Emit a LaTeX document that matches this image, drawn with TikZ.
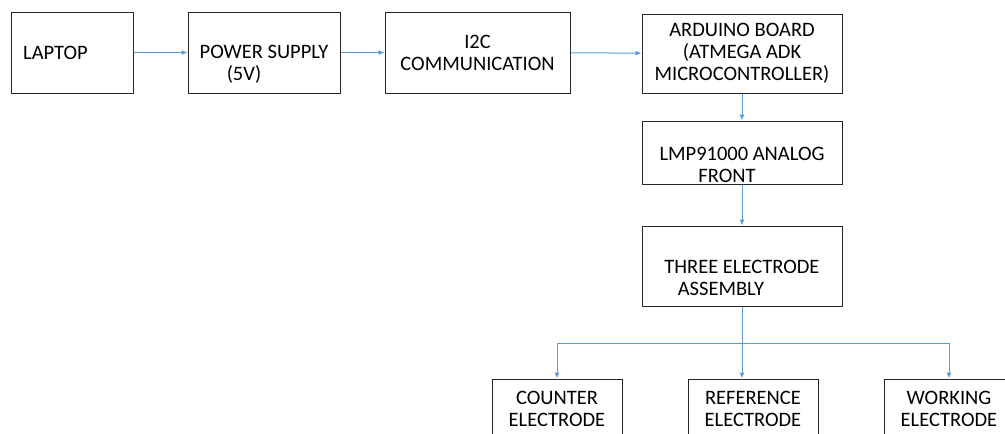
\documentclass[tikz,border=0pt]{standalone}
\usepackage{fontspec}
\setmainfont{Carlito}
\usepackage{tikz}
\usetikzlibrary{arrows.meta}
\definecolor{linkblue}{HTML}{5B9BD5}
\tikzstyle{blk}=[draw=black!85, line width=1pt, inner sep=0pt, align=center,
  font=\fontsize{20.5}{22}\selectfont]
\tikzstyle{link}=[draw=linkblue, line width=1pt, -{Latex[length=6pt,width=5pt]}]

\begin{document}
\begin{tikzpicture}[x=1pt, y=-1pt]
 \useasboundingbox (0,0) rectangle (1005,434);
% top row
 \node[blk, minimum width=122, minimum height=81] (laptop) at (72,52.5) {LAPTOP\hspace*{33pt}};
 \node[blk, minimum width=152, minimum height=81] (power) at (264,52.5) {\strut\\POWER SUPPLY\\(5V)\hspace*{40pt}};
 \node[blk, minimum width=185, minimum height=81] (itwoc) at (477.5,52.5) {I2C\\COMMUNICATION};
 \node[blk, minimum width=200, minimum height=79] (arduino) at (742,53.5) {ARDUINO BOARD\\(ATMEGA ADK\\MICROCONTROLLER)};
% right column
 \node[blk, minimum width=200, minimum height=63] (lmp) at (742,152.5) {\strut\\LMP91000 ANALOG\\FRONT\hspace*{30pt}};
 \node[blk, minimum width=200, minimum height=80] (three) at (742,266) {\strut\\THREE ELECTRODE\\ASSEMBLY\hspace*{42pt}};
% electrodes
 \node[blk, minimum width=130, minimum height=60] (counter) at (557,409) {COUNTER\\ELECTRODE};
 \node[blk, minimum width=130, minimum height=60] (reference) at (753,409) {REFERENCE\\ELECTRODE};
 \node[blk, minimum width=130, minimum height=60] (working) at (949,409) {WORKING\\ELECTRODE};
%
 \draw[link] (laptop) -- (power);
 \draw[link] (power) -- (itwoc);
 \draw[link] (itwoc) -- (arduino);
 \draw[link] (arduino) -- (lmp);
 \draw[link] (lmp) -- (three);
 \coordinate (fork) at (three.south |- 0,343);
 \draw[link] (three.south) -- (three.south |- reference.north);
 \draw[link] (fork) -| (counter.north);
 \draw[link] (fork) -| (working.north);
\end{tikzpicture}
\end{document}
